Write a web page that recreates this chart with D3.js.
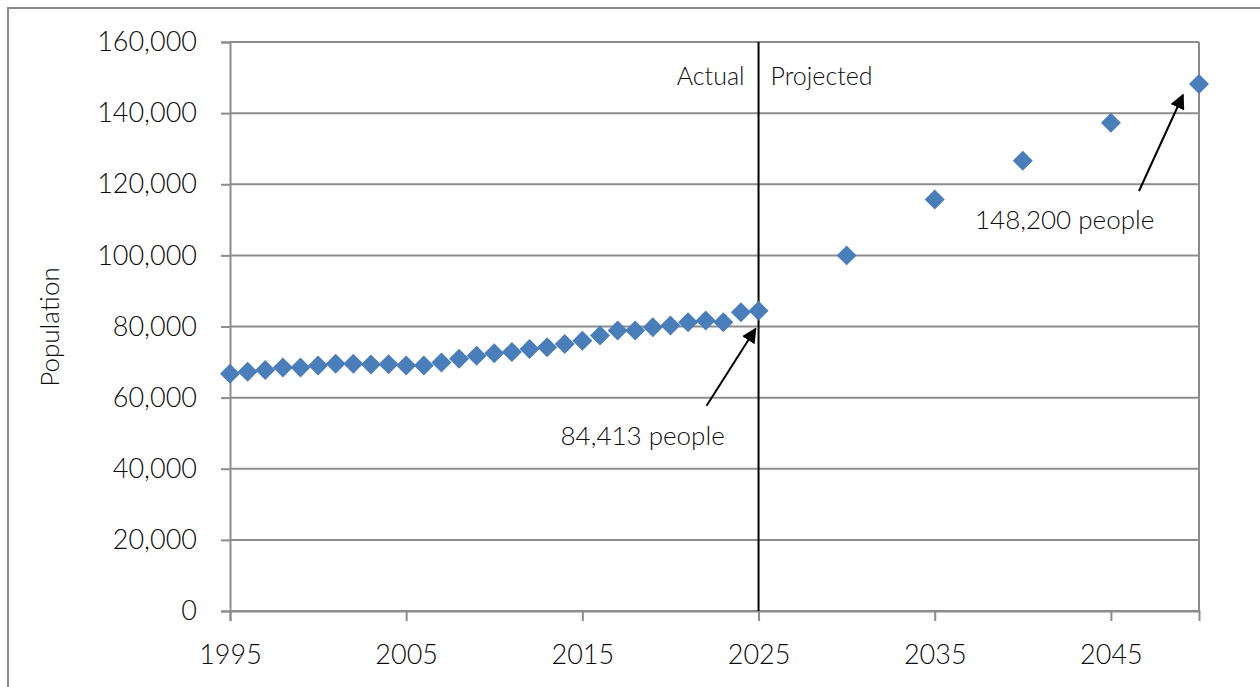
<!DOCTYPE html>
<html>
<head>
<meta charset="utf-8">
<script src="https://cdn.jsdelivr.net/npm/d3@7"></script>
<style>
 body { margin: 0; background: #fff; }
 text { font-family: Lato, "Open Sans", sans-serif; font-weight: 300; fill: #0d0d0d; }
</style>
</head>
<body>
<div id="chart"></div>
<script>
// population by year, actual 1995-2025 then projected every 5 years
var actualYears = d3.range(1995, 2026);
var actualPop = [66700, 67300, 67800, 68500, 68500, 69000, 69500, 69500, 69300, 69400,
 69000, 69000, 69900, 70900, 71800, 72500, 72800, 73700, 74200, 75100,
 76000, 77500, 78900, 78900, 79800, 80300, 81200, 81700, 81200, 84000, 84413];
var projYears = [2030, 2035, 2040, 2045, 2050];
var projPop = [100000, 115700, 126600, 137300, 148200];
var yTicks = [0, 20000, 40000, 60000, 80000, 100000, 120000, 140000, 160000];
var xTicks = [1995, 2005, 2015, 2025, 2035, 2045];

var svgWidth = 1260;
var svgHeight = 687;
var margin = { top: 42, right: 61, bottom: 76, left: 230 };
var width = svgWidth - margin.left - margin.right;
var height = svgHeight - margin.top - margin.bottom;

var points = [];
actualYears.forEach(function (yr, i) { points.push({ year: yr, pop: actualPop[i] }); });
projYears.forEach(function (yr, i) { points.push({ year: yr, pop: projPop[i] }); });

var root = d3.select("#chart")
 .append("svg")
   .attr("width", svgWidth)
   .attr("height", svgHeight);

// outer frame
root.append("rect")
 .attr("x", 8).attr("y", 8)
 .attr("width", 1270).attr("height", 700)
 .attr("fill", "none")
 .attr("stroke", "#8c8c8c")
 .attr("stroke-width", 2);

var svg = root.append("g")
 .attr("transform", "translate(" + margin.left + "," + margin.top + ")");

var x = d3.scaleLinear().domain([1995, 2050]).range([0, width]);
var y = d3.scaleLinear().domain([0, 160000]).range([height, 0]);

// gridlines
svg.append("g")
 .selectAll("line")
 .data(yTicks)
 .enter()
 .append("line")
   .attr("x1", 0).attr("x2", width)
   .attr("y1", function (d) { return y(d); })
   .attr("y2", function (d) { return y(d); })
   .attr("stroke", "#8c8c8c")
   .attr("stroke-width", 2);

// right edge of the plot
svg.append("line")
 .attr("x1", width).attr("x2", width)
 .attr("y1", 0).attr("y2", height)
 .attr("stroke", "#8c8c8c")
 .attr("stroke-width", 2);

// Y axis
var yAxis = svg.append("g")
 .call(d3.axisLeft(y).tickValues(yTicks).tickFormat(d3.format(",")).tickSizeOuter(0).tickSize(9).tickPadding(24));
// X axis
var xAxis = svg.append("g")
 .attr("transform", "translate(0," + height + ")")
 .call(d3.axisBottom(x).tickValues(xTicks).tickFormat(d3.format("d")).tickSizeOuter(0).tickSize(10).tickPadding(24));

[yAxis, xAxis].forEach(function (ax) {
 ax.selectAll("path, line").attr("stroke", "#8c8c8c").attr("stroke-width", 2);
 ax.selectAll("text").style("font-size", "27px").attr("fill", "#0d0d0d");
});

// axis title
root.append("text")
 .attr("transform", "translate(59,327) rotate(-90)")
 .attr("text-anchor", "middle")
 .style("font-size", "26px")
 .text("Population");

// divider between actual and projected
svg.append("line")
 .attr("x1", x(2025)).attr("x2", x(2025))
 .attr("y1", 0).attr("y2", height)
 .attr("stroke", "#000")
 .attr("stroke-width", 2);

svg.append("text")
 .attr("x", x(2025) - 14).attr("y", y(148000))
 .attr("text-anchor", "end")
 .style("font-size", "25px")
 .text("Actual");
svg.append("text")
 .attr("x", x(2025) + 12).attr("y", y(148000))
 .attr("text-anchor", "start")
 .style("font-size", "25px")
 .text("Projected");

// Add dots
svg.append("g")
 .selectAll("path")
 .data(points)
 .enter()
 .append("path")
   .attr("d", d3.symbol(d3.symbolSquare, 200))
   .attr("transform", function (d) { return "translate(" + x(d.year) + "," + y(d.pop) + ") rotate(45)"; })
   .attr("fill", "#4a7ebb");

// annotations
root.append("defs").append("marker")
 .attr("id", "head")
 .attr("viewBox", "0 0 10 10")
 .attr("refX", 9).attr("refY", 5)
 .attr("markerWidth", 7.5).attr("markerHeight", 7.5)
 .attr("markerUnits", "strokeWidth")
 .attr("orient", "auto")
 .append("path")
   .attr("d", "M0,0 L10,5 L0,10 Z")
   .attr("fill", "#000");

var notes = [
 { year: 2025, pop: 84413, label: "84,413", dx: -3, dy: 18, tx: -52, ty: 95, lx: -198, ly: 134 },
 { year: 2050, pop: 148200, label: "148,200", dx: -16, dy: 11, tx: -60, ty: 107, lx: -224, ly: 145 }
];

notes.forEach(function (n) {
 var px = x(n.year), py = y(n.pop);
 svg.append("line")
   .attr("x1", px + n.tx).attr("y1", py + n.ty)
   .attr("x2", px + n.dx).attr("y2", py + n.dy)
   .attr("stroke", "#000")
   .attr("stroke-width", 2)
   .attr("marker-end", "url(#head)");
 var t = svg.append("text")
   .attr("x", px + n.lx).attr("y", py + n.ly)
   .style("font-size", "26px");
 t.append("tspan").text(n.label + " ");
 t.append("tspan").style("font-size", "26px").text("people");
});
</script>
</body>
</html>
